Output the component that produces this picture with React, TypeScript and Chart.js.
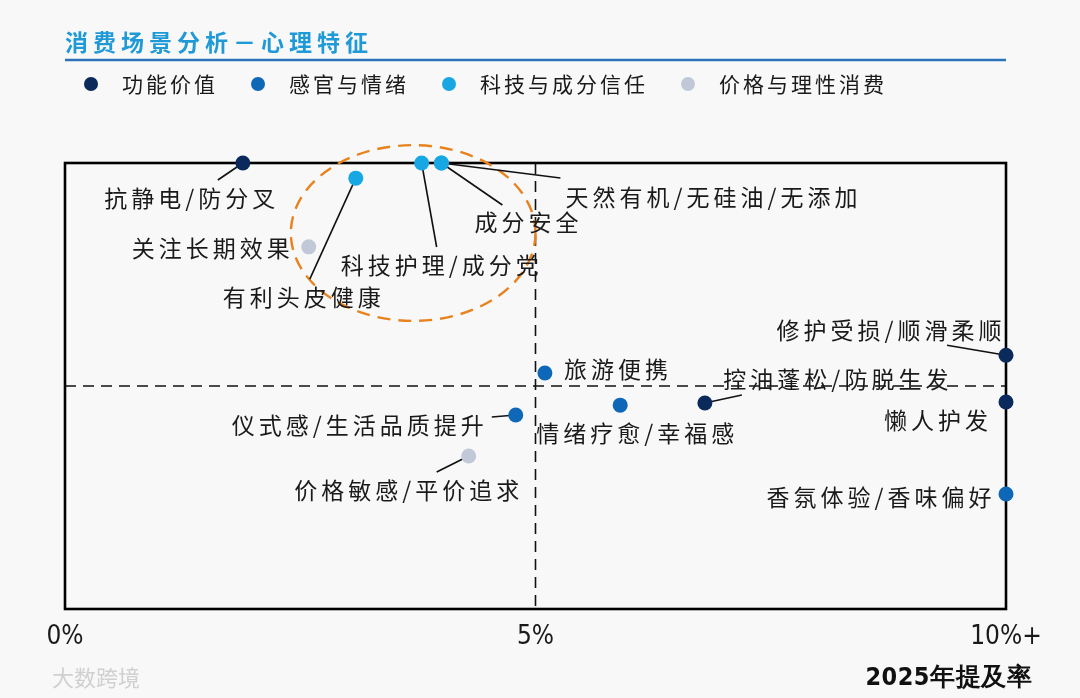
import React, { useEffect, useRef } from "react";
import { Chart, registerables } from "chart.js";

Chart.register(...registerables);

// ---------- data ----------
const seriesNames = ["功能价值", "感官与情绪", "科技与成分信任", "价格与理性消费"];
const seriesColors = ["#0b2a5c", "#0f67b8", "#17a8e3", "#c1c9d9"];

const funcLabels = ["抗静电/防分叉", "控油蓬松/防脱生发", "修护受损/顺滑柔顺", "懒人护发"];
const funcX = [1.89, 6.8, 10, 10];
const funcY = [100, 46.2, 56.9, 46.4];

const senseLabels = ["旅游便携", "仪式感/生活品质提升", "情绪疗愈/幸福感", "香氛体验/香味偏好"];
const senseX = [5.1, 4.79, 5.9, 10];
const senseY = [52.9, 43.5, 45.7, 25.8];

const techLabels = ["有利头皮健康", "科技护理/成分党", "成分安全", "天然有机/无硅油/无添加"];
const techX = [3.09, 3.79, 4.0, 4.0];
const techY = [96.6, 100, 100, 100];

const priceLabels = ["关注长期效果", "价格敏感/平价追求"];
const priceX = [2.59, 4.29];
const priceY = [81.2, 34.3];

const xTicks = [0, 5, 10];
const xTickLabels = ["0%", "5%", "10%+"];
const xAxisTitle = "2025年提及率";
const chartTitle = "消费场景分析－心理特征";
const watermark = "大数跨境";

// ---------- layout for labels (pixel offsets from the point) ----------
type LabelPos = { dx: number; dy: number; lx?: number; ly?: number };
const labelLayout: Record<string, LabelPos> = {
  "抗静电/防分叉": { dx: -53, dy: 35, lx: -25, ly: 17 },
  "有利头皮健康": { dx: -54, dy: 119, lx: -46, ly: 101 },
  "科技护理/成分党": { dx: 18, dy: 102, lx: 15, ly: 84 },
  "成分安全": { dx: 85, dy: 59, lx: 61, ly: 42 },
  "天然有机/无硅油/无添加": { dx: 270, dy: 34, lx: 119, ly: 15 },
  "关注长期效果": { dx: -98, dy: 1 },
  "旅游便携": { dx: 71, dy: -4 },
  "仪式感/生活品质提升": { dx: -158, dy: 10, lx: -24, ly: 2 },
  "情绪疗愈/幸福感": { dx: 15, dy: 28 },
  "控油蓬松/防脱生发": { dx: 131, dy: -24, lx: 37, ly: -8 },
  "价格敏感/平价追求": { dx: -62, dy: 34, lx: -32, ly: 16 },
  "修护受损/顺滑柔顺": { dx: -117, dy: -25, lx: -59, ly: -10 },
  "懒人护发": { dx: -70, dy: 18 },
  "香氛体验/香味偏好": { dx: -127, dy: 3 },
};

// highlight ellipse in data units
const ellipseCenter = { x: 3.7, y: 84.3 };
const ellipseRadius = { x: 1.3, y: 19.7 };

const CJK = "'Noto Sans CJK SC', 'Noto Sans', sans-serif";
const NARROW = "'DejaVu Sans Condensed', 'Liberation Sans', sans-serif";
const BG = "#f8f8f8";

const annotPlugin = {
  id: "annot",
  beforeDraw(chart: any) {
    const { ctx, width, height } = chart;
    ctx.save();
    ctx.fillStyle = BG;
    ctx.fillRect(0, 0, width, height);
    ctx.restore();
  },
  beforeDatasetsDraw(chart: any) {
    const { ctx, chartArea: a, scales } = chart;
    const x = scales.x;
    const y = scales.y;
    ctx.save();
    // dashed quadrant lines
    ctx.strokeStyle = "#111";
    ctx.lineWidth = 1.6;
    ctx.setLineDash([11, 7]);
    const xm = x.getPixelForValue(5);
    const ym = y.getPixelForValue(50);
    ctx.beginPath();
    ctx.moveTo(xm, a.top);
    ctx.lineTo(xm, a.bottom);
    ctx.moveTo(a.left, ym);
    ctx.lineTo(a.right, ym);
    ctx.stroke();
    // frame
    ctx.setLineDash([]);
    ctx.lineWidth = 2.6;
    ctx.strokeStyle = "#000";
    ctx.strokeRect(a.left, a.top, a.right - a.left, a.bottom - a.top);
    // ellipse
    const cx = x.getPixelForValue(ellipseCenter.x);
    const cy = y.getPixelForValue(ellipseCenter.y);
    const rx = Math.abs(x.getPixelForValue(ellipseCenter.x + ellipseRadius.x) - cx);
    const ry = Math.abs(y.getPixelForValue(ellipseCenter.y + ellipseRadius.y) - cy);
    ctx.strokeStyle = "#e8821e";
    ctx.lineWidth = 2.4;
    ctx.setLineDash([13, 8]);
    ctx.beginPath();
    ctx.ellipse(cx, cy, rx, ry, 0, 0, Math.PI * 2);
    ctx.stroke();
    // leader lines
    ctx.setLineDash([]);
    ctx.strokeStyle = "#111";
    ctx.lineWidth = 1.6;
    chart.data.datasets.forEach((ds: any, di: number) => {
      const meta = chart.getDatasetMeta(di);
      ds.labels.forEach((lab: string, i: number) => {
        const L = labelLayout[lab];
        const el = meta.data[i];
        if (!L || L.lx === undefined || !el) return;
        ctx.beginPath();
        ctx.moveTo(el.x, el.y);
        ctx.lineTo(el.x + L.lx, el.y + (L.ly as number));
        ctx.stroke();
      });
    });
    ctx.restore();
  },
  afterDatasetsDraw(chart: any) {
    const { ctx } = chart;
    ctx.save();
    ctx.font = `23px ${CJK}`;
    (ctx as any).letterSpacing = "4px";
    ctx.fillStyle = "#1a1a1a";
    ctx.textAlign = "center";
    ctx.textBaseline = "middle";
    chart.data.datasets.forEach((ds: any, di: number) => {
      const meta = chart.getDatasetMeta(di);
      ds.labels.forEach((lab: string, i: number) => {
        const L = labelLayout[lab];
        const el = meta.data[i];
        if (!L || !el) return;
        ctx.fillText(lab, el.x + L.dx + 2, el.y + L.dy);
      });
    });
    ctx.restore();
  },
  afterDraw(chart: any) {
    const { ctx, chartArea: a } = chart;
    ctx.save();
    // title
    ctx.font = `bold 23px ${CJK}`;
    (ctx as any).letterSpacing = "5px";
    ctx.fillStyle = "#1f9ad6";
    ctx.textAlign = "left";
    ctx.textBaseline = "middle";
    ctx.fillText(chartTitle, a.left, 42);
    ctx.strokeStyle = "#2a73b8";
    ctx.lineWidth = 2.5;
    ctx.beginPath();
    ctx.moveTo(a.left, 60);
    ctx.lineTo(a.right, 60);
    ctx.stroke();
    // legend
    ctx.font = `21px ${CJK}`;
    (ctx as any).letterSpacing = "3px";
    ctx.fillStyle = "#1a1a1a";
    let lx = 91;
    seriesNames.forEach((name, i) => {
      ctx.beginPath();
      ctx.fillStyle = seriesColors[i];
      ctx.arc(lx, 84, 7, 0, Math.PI * 2);
      ctx.fill();
      ctx.fillStyle = "#1a1a1a";
      ctx.fillText(name, lx + 31, 84);
      const w = ctx.measureText(name).width;
      lx = lx + 31 + w + 40;
    });
    // axis title
    ctx.font = `bold 25px ${NARROW}`;
    (ctx as any).letterSpacing = "0.5px";
    ctx.textAlign = "right";
    ctx.fillStyle = "#111";
    ctx.fillText(xAxisTitle, 1032, 678);
    // watermark
    ctx.font = `22px ${CJK}`;
    (ctx as any).letterSpacing = "0px";
    ctx.textAlign = "left";
    ctx.fillStyle = "#d0d0d0";
    ctx.fillText(watermark, 52, 678);
    ctx.restore();
  },
};

export default function App() {
  const ref = useRef<HTMLCanvasElement | null>(null);
  useEffect(() => {
    document.body.style.background = BG;
    const mk = (labels: string[], xs: number[], ys: number[], i: number) => ({
      label: seriesNames[i],
      labels,
      data: xs.map((v, k) => ({ x: v, y: ys[k] })),
      backgroundColor: seriesColors[i],
      borderWidth: 0,
      pointRadius: 7.5,
      pointHoverRadius: 7.5,
      clip: false as any,
    });
    const chart = new Chart(ref.current as HTMLCanvasElement, {
      type: "scatter",
      data: {
        datasets: [
          mk(funcLabels, funcX, funcY, 0),
          mk(senseLabels, senseX, senseY, 1),
          mk(techLabels, techX, techY, 2),
          mk(priceLabels, priceX, priceY, 3),
        ] as any,
      },
      options: {
        animation: false,
        responsive: false,
        devicePixelRatio: 1,
        layout: { padding: { left: 65, right: 74, top: 163, bottom: 0 } },
        plugins: { legend: { display: false }, tooltip: { enabled: false } },
        events: [],
        scales: {
          x: {
            type: "linear",
            min: 0,
            max: 10,
            afterBuildTicks: (s: any) => {
              s.ticks = xTicks.map((v) => ({ value: v }));
            },
            afterFit: (s: any) => {
              s.height = 89;
            },
            ticks: {
              autoSkip: false,
              maxRotation: 0,
              padding: 13,
              color: "#1a1a1a",
              font: { family: NARROW, size: 26 },
              callback: (v: any) => {
                const idx = xTicks.indexOf(Number(v));
                return idx >= 0 ? xTickLabels[idx] : "";
              },
            },
            grid: { display: false, drawTicks: false },
            border: { display: false },
          },
          y: { display: false, min: 0, max: 100 },
        },
      },
      plugins: [annotPlugin],
    });
    return () => chart.destroy();
  }, []);
  return (
    <div style={{ position: "fixed", left: 0, top: 0, width: 1080, height: 698, background: BG }}>
      <canvas ref={ref} width={1080} height={698} style={{ width: 1080, height: 698, display: "block" }} />
    </div>
  );
}
